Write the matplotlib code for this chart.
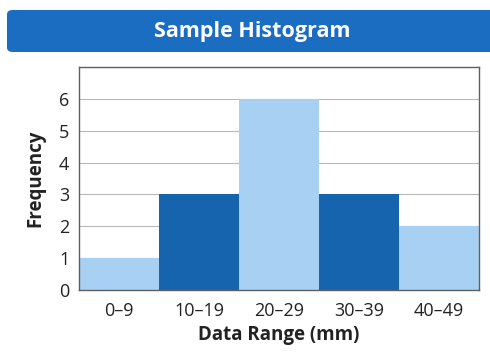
import matplotlib
matplotlib.use("Agg")
import matplotlib.pyplot as plt
from matplotlib.patches import FancyBboxPatch

categories = ["0–9", "10–19", "20–29", "30–39", "40–49"]
frequencies = [1, 3, 6, 3, 2]
y_ticks = [0, 1, 2, 3, 4, 5, 6]

light_blue = "#a7d0f3"
dark_blue = "#1663ae"
header_blue = "#1b6dc1"
bar_colors = [light_blue, dark_blue, light_blue, dark_blue, light_blue]

plt.rcParams["font.family"] = ["Open Sans", "DejaVu Sans"]

fig = plt.figure(figsize=(4.9, 3.52), dpi=100)
fig.patch.set_facecolor("white")

# title banner
banner = FancyBboxPatch((7 / 490, 1 - 52 / 352), (490 - 7) / 490 + 0.02, 42 / 352,
                        boxstyle="round,pad=0,rounding_size=0.012",
                        transform=fig.transFigure, facecolor=header_blue,
                        edgecolor="none", zorder=0)
fig.patches.append(banner)
fig.text(252 / 490, 1 - 32 / 352, "Sample Histogram", color="white",
         fontsize=15.5, fontweight="bold", ha="center", va="center")

ax = fig.add_axes([79 / 490, 1 - 290 / 352, (479 - 79) / 490, (290 - 67) / 352])
x = list(range(len(categories)))
ax.bar(x, frequencies, width=1.0, color=bar_colors, edgecolor="none", zorder=2)

ax.set_xlim(-0.5, len(categories) - 0.5)
ax.set_ylim(0, 7)
ax.set_yticks(y_ticks)
ax.set_xticks(x)
ax.set_xticklabels(categories)
ax.tick_params(axis="both", length=0, labelsize=13, colors="#222222")
ax.tick_params(axis="x", pad=9)
ax.tick_params(axis="y", pad=7)
ax.grid(axis="y", color="#b8b8b8", linewidth=0.8, zorder=1)
ax.set_axisbelow(True)
for s in ax.spines.values():
    s.set_color("#606060")
    s.set_linewidth(1.0)

ax.set_ylabel("Frequency", fontsize=13.5, fontweight="bold", color="#222222", labelpad=10)
ax.set_xlabel("Data Range (mm)", fontsize=13.5, fontweight="bold", color="#222222", labelpad=3)

fig.savefig("out.png", dpi=100)
